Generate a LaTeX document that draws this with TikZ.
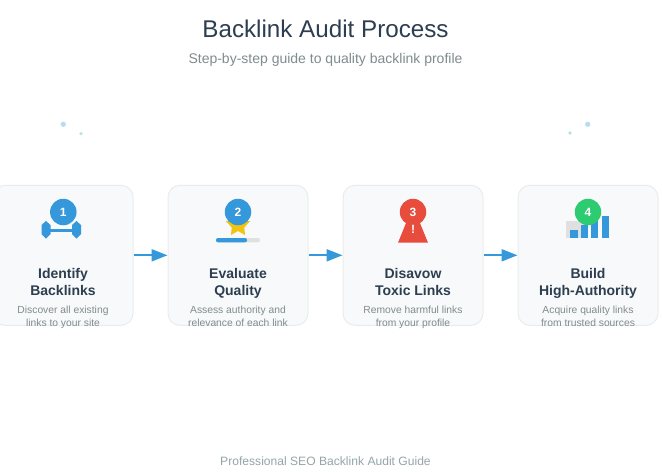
\documentclass[tikz,border=0pt]{standalone}
\usepackage{fontspec}
\setmainfont{Liberation Sans}
\usetikzlibrary{arrows.meta}
\definecolor{inkdark}{HTML}{2C3E50}
\definecolor{inkgray}{HTML}{7F8C8D}
\definecolor{inkfoot}{HTML}{95A5A6}
\definecolor{cardfill}{HTML}{F8F9FA}
\definecolor{cardline}{HTML}{E9ECEF}
\definecolor{stepblue}{HTML}{3498DB}
\definecolor{stepred}{HTML}{E74C3C}
\definecolor{stepgreen}{HTML}{2ECC71}
\definecolor{stargold}{HTML}{F1C40F}
\definecolor{trackgray}{HTML}{E0E0E0}

\begin{document}
\begin{tikzpicture}[x=1pt, y=-1pt]
	\tikzstyle{card} = [draw=cardline, fill=cardfill, line width=1pt, rounded corners=12pt, minimum size=140pt, inner sep=0pt]
	\tikzstyle{badge} = [circle, minimum size=26.5pt, inner sep=0pt, text=white, font=\fontsize{12}{12}\selectfont\bfseries]
	\tikzstyle{cardtitle} = [anchor=base, align=center, text=inkdark, inner sep=0pt, font=\fontsize{14}{17}\selectfont\bfseries]
	\tikzstyle{carddesc} = [anchor=base, align=center, text=inkgray, inner sep=0pt, font=\fontsize{10.3}{13}\selectfont]
	\tikzstyle{flow} = [draw=stepblue, line width=2pt, -{Triangle[length=16pt, width=12pt]}]
	\useasboundingbox (0,0) rectangle (662,475);
	\fill[white] (0,0) rectangle (662,475);
	\node[anchor=base, inner sep=0pt, text=inkdark, font=\fontsize{24.2}{24}\selectfont] (title) at (325.5,37) {Backlink Audit Process};
	\node[anchor=base, inner sep=0pt, text=inkgray, font=\fontsize{14}{14}\selectfont] (subtitle) at (325.5,63) {Step-by-step guide to quality backlink profile};
	\node[anchor=base, inner sep=0pt, text=inkfoot, font=\fontsize{12.1}{12}\selectfont] (footer) at (325.5,465.5) {Professional SEO Backlink Audit Guide};
	% dots
	\fill[stepblue, opacity=0.35] (63.3,124.3) circle (2.6);
	\fill[stepblue!60!stepgreen, opacity=0.35] (81,133.6) circle (1.8);
	\fill[stepblue, opacity=0.35] (587.7,124.3) circle (2.6);
	\fill[stepblue!60!stepgreen, opacity=0.35] (570,133) circle (1.8);
	% cards
	\node[card] (identify) at (63,255.3) {};
	\node[card] (evaluate) at (238,255.3) {};
	\node[card] (disavow) at (413,255.3) {};
	\node[card] (build) at (588,255.3) {};
	\draw[flow] (identify)--(evaluate);
	\draw[flow] (evaluate)--(disavow);
	\draw[flow] (disavow)--(build);
	% icon 1
	\fill[stepblue] (46,221) -- (50.5,225) -- (50.5,234) -- (46,238.5) -- (41.5,234) -- (41.5,225) -- cycle;
	\fill[stepblue] (76.5,221) -- (81,225) -- (81,234) -- (76.5,238.5) -- (72,234) -- (72,225) -- cycle;
	\fill[stepblue] (50,228.5) rectangle (72,231.5);
	\node[badge, fill=stepblue] (badge1) at (63.3,212) {1};
	% icon 2
	\fill[stargold] (225.7,221) -- (250.3,221) -- (244.3,227.3) -- (245,235) -- (238,231) -- (231,235) -- (231.7,227.3) -- cycle;
	\fill[trackgray, rounded corners=2pt] (216,238) rectangle (260,242.3);
	\fill[stepblue, rounded corners=2pt] (216,238) rectangle (247,242.3);
	\node[badge, fill=stepblue] (badge2) at (238,212) {2};
	% icon 3
	\fill[stepred] (413,206) -- (428,242.7) -- (398,242.7) -- cycle;
	\node[badge, fill=stepred] (badge3) at (413,212) {3};
	\node[text=white, inner sep=0pt, font=\fontsize{12}{12}\selectfont\bfseries] (mark3) at (413,229.5) {!};
	% icon 4
	\fill[trackgray] (566,221) rectangle (588,238.3);
	\fill[stepblue] (570,229.7) rectangle (577.7,238.3);
	\fill[stepblue] (580.7,225) rectangle (588,238.3);
	\fill[stepblue] (591,221) rectangle (598.3,238.3);
	\fill[stepblue] (601.7,216) rectangle (609,238.3);
	\node[badge, fill=stepgreen] (badge4) at (588,212) {4};
	% texts
	\node[cardtitle] (name1) at (63,295) {Identify\\Backlinks};
	\node[cardtitle] (name2) at (238,295) {Evaluate\\Quality};
	\node[cardtitle] (name3) at (413,295) {Disavow\\Toxic Links};
	\node[cardtitle] (name4) at (588,295) {Build\\High-Authority};
	\node[carddesc] (desc1) at (63,326.5) {Discover all existing\\links to your site};
	\node[carddesc] (desc2) at (238,326.5) {Assess authority and\\relevance of each link};
	\node[carddesc] (desc3) at (413,326.5) {Remove harmful links\\from your profile};
	\node[carddesc] (desc4) at (588,326.5) {Acquire quality links\\from trusted sources};
\end{tikzpicture}
\end{document}
